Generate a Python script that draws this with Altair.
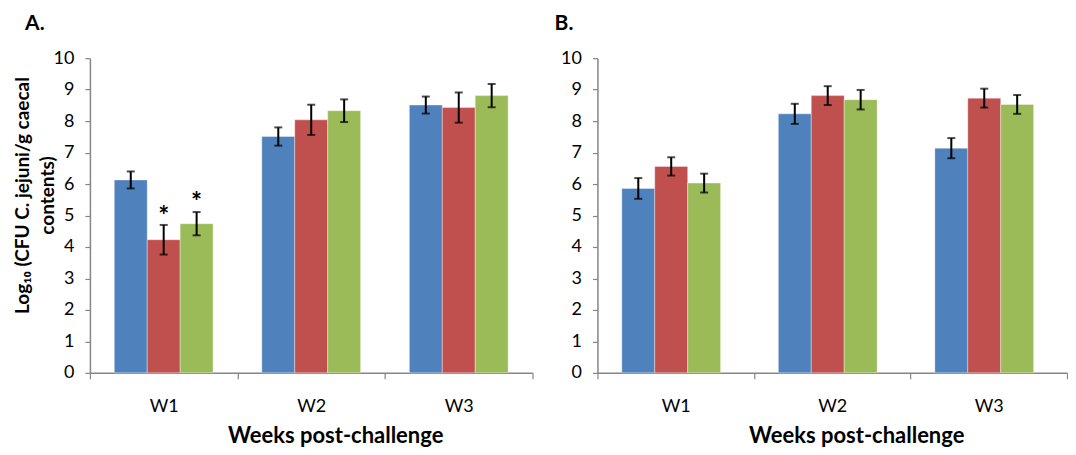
import altair as alt
import pandas as pd

weeks = ["W1", "W2", "W3"]
groups = ["Group 1", "Group 2", "Group 3"]
colors = ["#4F81BD", "#C0504D", "#9BBB59"]

# Panel A (means and error half-widths, order W1 G1..G3, W2 ..., W3 ...)
a_mean = [6.13, 4.23, 4.74, 7.51, 8.04, 8.33, 8.51, 8.43, 8.81]
a_err = [0.27, 0.47, 0.37, 0.29, 0.48, 0.36, 0.27, 0.48, 0.37]
# Panel B
b_mean = [5.86, 6.56, 6.03, 8.23, 8.81, 8.68, 7.14, 8.73, 8.53]
b_err = [0.33, 0.29, 0.30, 0.32, 0.30, 0.31, 0.32, 0.30, 0.30]

# Significance markers (panel A)
star_week = ["W1", "W1"]
star_group = ["Group 2", "Group 3"]
star_y = [5.13, 5.59]

y_ticks = [0, 1, 2, 3, 4, 5, 6, 7, 8, 9, 10]

FONT = "Lato"


def make_df(means, errs):
    rows = []
    i = 0
    for w in weeks:
        for g in groups:
            rows.append({"week": w, "group": g, "mean": means[i],
                         "lo": means[i] - errs[i], "hi": means[i] + errs[i]})
            i += 1
    return pd.DataFrame(rows)


def panel(df, label, title_dx, ytitle, width, stars=None):
    x = alt.X("week:N", sort=weeks,
              scale=alt.Scale(domain=weeks, paddingInner=0, paddingOuter=0),
              axis=alt.Axis(title="Weeks post-challenge", labelAngle=0,
                            tickBand="extent", tickExtra=True, tickSize=6,
                            labelPadding=19, titlePadding=10,
                            labelFontSize=18, titleFontSize=22,
                            titleFontWeight="bold", titleX=width / 2 + 24))
    xo = alt.XOffset("group:N", sort=groups,
                     scale=alt.Scale(domain=groups, paddingOuter=0.74, paddingInner=0))
    yaxis = alt.Axis(values=y_ticks, grid=False, tickSize=5,
                     labelFontSize=18, labelPadding=11, labelOverlap=False,
                     title=ytitle if ytitle else "",
                     titleFontSize=19, titleFontWeight="bold",
                     titleLineHeight=25, titlePadding=-4, titleY=137)
    yscale = alt.Scale(domain=[0, 10], nice=False)

    def Y(field):
        return alt.Y(field, scale=yscale, axis=yaxis)

    base = alt.Chart(df)
    bars = base.mark_bar(stroke="white", strokeWidth=0.6, strokeOpacity=0.6).encode(
        x=x, xOffset=xo, y=Y("mean:Q"),
        color=alt.Color("group:N", scale=alt.Scale(domain=groups, range=colors),
                        legend=None))
    rules = base.mark_rule(color="black", strokeWidth=2).encode(
        x=x, xOffset=xo, y=Y("lo:Q"), y2="hi:Q")
    cap_lo = base.mark_tick(color="black", thickness=2, size=8).encode(
        x=x, xOffset=xo, y=Y("lo:Q"))
    cap_hi = base.mark_tick(color="black", thickness=2, size=8).encode(
        x=x, xOffset=xo, y=Y("hi:Q"))
    layers = [bars, rules, cap_lo, cap_hi]
    if stars is not None:
        st = alt.Chart(stars).mark_text(text="*", fontSize=26, fontWeight="bold",
                                        color="black", dy=6, baseline="middle",
                                        font=FONT).encode(
            x=x, xOffset=xo, y=Y("y:Q"))
        layers.append(st)
    return alt.layer(*layers).properties(
        width=width, height=315,
        title=alt.TitleParams(label, anchor="start", frame="bounds", dx=title_dx,
                              fontSize=21, fontWeight="bold", offset=15, font=FONT))


df_a = make_df(a_mean, a_err)
df_b = make_df(b_mean, b_err)
stars_df = pd.DataFrame({"week": star_week, "group": star_group, "y": star_y})

pa = panel(df_a, "A.", 12, ["Log₁₀ (CFU C. jejuni/g caecal", "contents)"], 443, stars_df)
pb = panel(df_b, "B.", -6, None, 470)

chart = alt.hconcat(pa, pb, spacing=21).properties(
    padding={"left": 5, "top": 5, "right": 0, "bottom": 0}
).configure_view(stroke=None).configure_axis(
    domainColor="#868686", tickColor="#868686", domainWidth=1.5, tickWidth=1.2,
    labelColor="black", titleColor="black", labelFont=FONT, titleFont=FONT
).configure_text(font=FONT)

chart.save("out.html", embed_options={"renderer": "svg", "actions": False})
